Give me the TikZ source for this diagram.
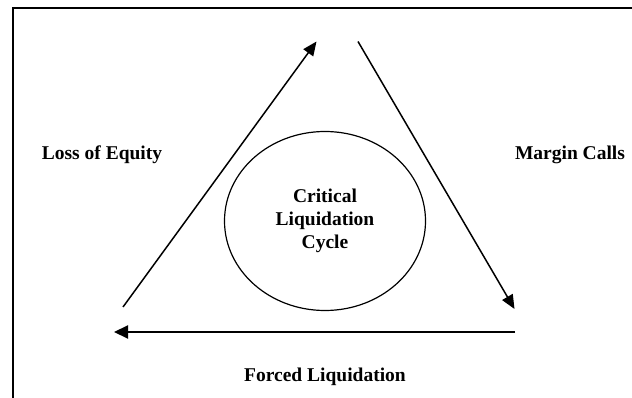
\documentclass[tikz,border=0pt]{standalone}
\usepackage{fontspec}
\setmainfont{Liberation Serif}
\usetikzlibrary{arrows.meta,shapes.geometric}
\begin{document}
\begin{tikzpicture}[x=1pt,y=-1pt,
  label/.style={font=\fontsize{19.5}{23.3}\selectfont\bfseries, inner sep=0pt, anchor=base},
  flow/.style={line width=1.5pt, -{Triangle[length=14pt,width=12pt]}},
  flowthick/.style={line width=2pt, -{Triangle[length=14pt,width=13pt]}},
  frameline/.style={line width=2pt}]
  \useasboundingbox (0,0) rectangle (632,398);

  % open frame: top and left edges
  \coordinate (frameBL) at (13,398);
  \coordinate (frameTL) at (13,8);
  \coordinate (frameTR) at (632,8);
  \draw[frameline] (frameBL) -- (frameTL) -- (frameTR);

  % end points of the three arrows
  \coordinate (leftLow)   at (123,307);
  \coordinate (topLeft)   at (316.5,41.5);
  \coordinate (topRight)  at (358,41.5);
  \coordinate (rightLow)  at (514.5,309);
  \coordinate (bottomR)   at (515,332);
  \coordinate (bottomL)   at (114,332);

  \draw[flow] (leftLow) -- (topLeft);
  \draw[flow] (topRight) -- (rightLow);
  \draw[flowthick] (bottomR) -- (bottomL);

  % central cycle
  \node[ellipse, draw, line width=1.2pt, minimum width=201pt, minimum height=179pt,
        inner sep=0pt, align=center, font=\fontsize{19.5}{23.3}\selectfont\bfseries]
        (cycle) at (325,221) {Critical\\Liquidation\\Cycle};

  % side labels
  \node[label] (loss)   at (102,160)   {Loss of Equity};
  \node[label] (margin) at (570,160)   {Margin Calls};
  \node[label] (forced) at (325,381.5) {Forced Liquidation};
\end{tikzpicture}
\end{document}
